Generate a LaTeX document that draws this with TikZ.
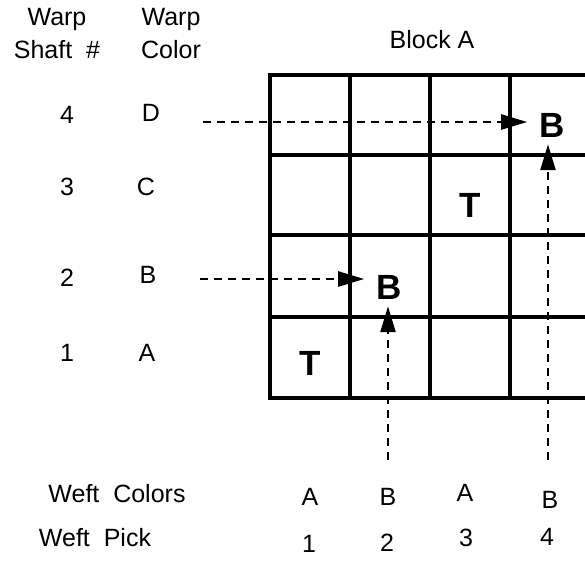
\documentclass[tikz,border=0pt]{standalone}
\usepackage{fontspec}
\setmainfont{Liberation Sans}
\usetikzlibrary{arrows.meta}
\begin{document}
\begin{tikzpicture}[x=1pt,y=-1pt,
		lbl/.style={font=\fontsize{25}{33}\selectfont, inner sep=0pt, align=center},
		cellmark/.style={font=\fontsize{35}{36}\selectfont\bfseries, inner xsep=12pt, inner ysep=7pt},
		warparrow/.style={line width=2.5pt, dash pattern=on 8pt off 6pt, -{Triangle[length=26pt,width=15pt]}}]
			\useasboundingbox (0,0) rectangle (585,560);
			\clip (0,0) rectangle (585,560);
			% grid of block A
			\foreach \x in {270,350,430,510} { \draw[line width=4.5pt] (\x,75) -- (\x,398); }
			\foreach \y in {75,155,235,317,398} { \draw[line width=4.5pt, line cap=rect] (270,\y) -- (600,\y); }
			% headings
			\node[lbl] (shaft) at (57,34) {Warp\\Shaft~~\#};
			\node[lbl] (color) at (171,34) {Warp\\Color};
			\node[lbl] (block) at (432,40) {Block A};
			\foreach \n/\c/\y/\xc/\yc in {4/D/115/151/113,3/C/187/146/187,2/B/278/148/275,1/A/353/147/353} {
				\node[lbl] (shaft\n) at (67,\y) {\n};
				\node[lbl] (color\n) at (\xc,\yc) {\c};
			}
			\node[lbl] (weftcolors) at (117,494) {Weft~~Colors};
			\node[lbl] (weftpick) at (95,538) {Weft~~Pick};
			\foreach \i/\c/\x/\yc/\xp/\yp in {1/A/310/497/309/544,2/B/388/497/387/543,3/A/465/493/466/538,4/B/550/500/547/537} {
				\node[lbl] (wcol\i) at (\x,\yc) {\c};
				\node[lbl] (pick\i) at (\xp,\yp) {\i};
			}
			% marks in the cells
			\node[cellmark] (t1) at (310,363) {T};
			\node[cellmark] (t3) at (470,205) {T};
			\node[cellmark] (b2) at (389,287) {B};
			\node[cellmark] (b4) at (552,125) {B};
			% warp and weft paths
			\coordinate (w4) at (203,122);
			\coordinate (w2) at (200,279);
			\coordinate (p2) at (388,460);
			\coordinate (p4) at (548,460);
			\draw[warparrow] (w4) -- (w4 -| b4.west);
			\draw[warparrow] (w2) -- (w2 -| b2.west);
			\draw[warparrow] (p2) -- (p2 |- b2.south);
			\draw[warparrow] (p4) -- (p4 |- b4.south);
		\end{tikzpicture}
\end{document}
